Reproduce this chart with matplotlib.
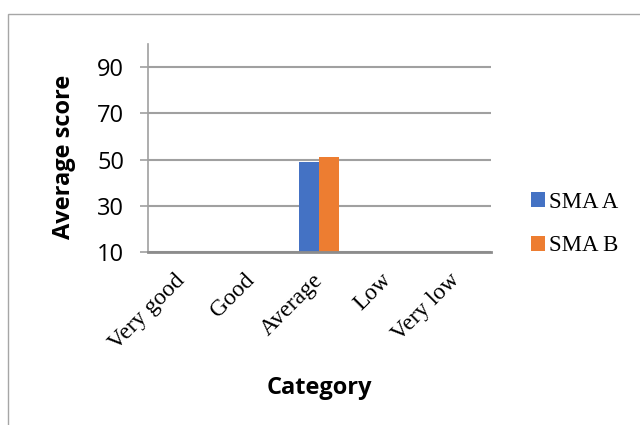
import numpy as np
import matplotlib
matplotlib.use("Agg")
import matplotlib.pyplot as plt
from matplotlib.patches import Rectangle

# data
categories = ["Very good", "Good", "Average", "Low", "Very low"]
sma_a = [0, 0, 49.1, 0, 0]
sma_b = [0, 0, 51.3, 0, 0]
series_names = ["SMA A", "SMA B"]
y_ticks = [10, 30, 50, 70, 90]

fig = plt.figure(figsize=(6.4, 4.25), dpi=100)
ax = fig.add_axes([0.231, 0.407, 0.536, 0.489])

# thin grey frame around the whole chart area
fig.patches.append(Rectangle((8 / 640, -0.1), 1.2, 1 - 14 / 425 + 0.1,
                             transform=fig.transFigure, fill=False,
                             edgecolor="#a6a6a6", linewidth=1.0))

x = np.arange(len(categories))
w = 0.29
ax.bar(x - w / 2, sma_a, w, color="#4472C4", label=series_names[0], zorder=3)
ax.bar(x + w / 2, sma_b, w, color="#ED7D31", label=series_names[1], zorder=3)

ax.set_xlim(-0.5, len(categories) - 0.5)
ax.set_ylim(10, 100)
ax.set_yticks(y_ticks)
ax.yaxis.grid(True, color="#a0a0a0", linewidth=1.5, zorder=0)
ax.set_axisbelow(True)

for s in ["top", "right"]:
    ax.spines[s].set_visible(False)
ax.spines["left"].set_color("#a0a0a0")
ax.spines["left"].set_linewidth(1.2)
ax.spines["bottom"].set_color("#8c8c8c")
ax.spines["bottom"].set_linewidth(2.0)
ax.spines["bottom"].set_zorder(4)

ax.tick_params(axis="y", direction="out", length=6, width=1.2, color="#a0a0a0",
               labelsize=17, pad=11)
ax.tick_params(axis="x", length=0, pad=18)
for lab in ax.get_yticklabels():
    lab.set_fontfamily("Open Sans")

ax.set_xticks(x)
ax.set_xticklabels(categories, rotation=45, ha="right", va="center",
                   rotation_mode="anchor",
                   fontfamily="Liberation Serif", fontsize=17)

ax.set_ylabel("Average score", fontfamily="Open Sans", fontweight="bold",
              fontsize=17)
ax.yaxis.set_label_coords(-0.21, 0.457)
ax.set_xlabel("Category", fontfamily="Open Sans", fontweight="bold",
              fontsize=17)
ax.xaxis.set_label_coords(0.5, -0.595)

ax.legend(loc="center left", bbox_to_anchor=(1.057, 0.135), frameon=False,
          prop={"family": "Liberation Serif", "size": 16.5},
          handlelength=0.6, handleheight=0.6, handletextpad=0.2,
          labelspacing=1.0)

fig.savefig("out.png", dpi=100, facecolor="white")
